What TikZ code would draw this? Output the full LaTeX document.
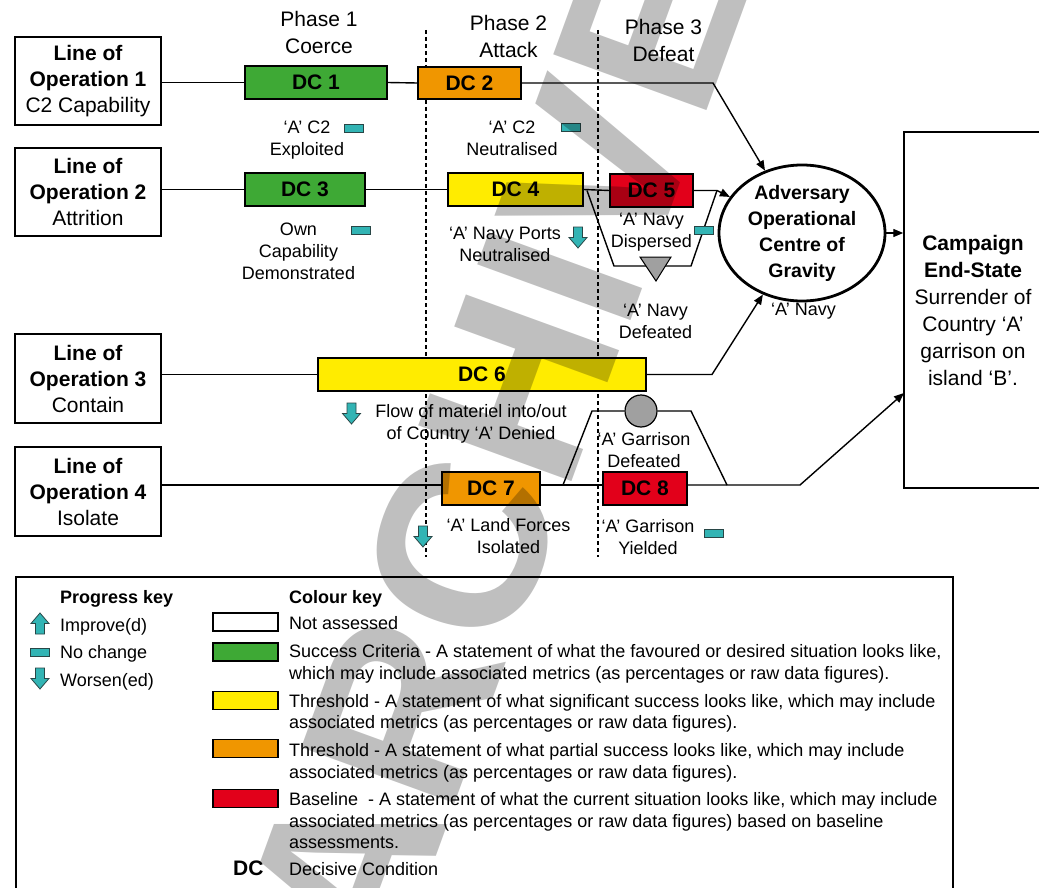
\documentclass[tikz,border=0pt]{standalone}
\usepackage{fontspec}
\setmainfont{Liberation Sans}
\usetikzlibrary{shapes.geometric,arrows.meta}
\definecolor{dcgreen}{RGB}{62,169,53}
\definecolor{dcorange}{RGB}{240,150,0}
\definecolor{dcyellow}{RGB}{255,236,0}
\definecolor{dcred}{RGB}{226,0,26}
\definecolor{icoteal}{RGB}{50,180,180}
\definecolor{icoline}{RGB}{40,70,70}
\definecolor{markgray}{RGB}{160,160,160}
\tikzset{
  loo/.style={draw, line width=1.5pt, minimum width=146pt, minimum height=88pt, inner sep=0pt, align=center, font=\fontsize{21}{26}\selectfont},
  dcbox/.style={draw, line width=1.4pt, inner sep=0pt, font=\fontsize{21}{26}\selectfont\bfseries},
  ann/.style={align=center, inner sep=0pt, font=\fontsize{18}{22}\selectfont},
  phasel/.style={align=center, inner sep=0pt, font=\fontsize{21}{27}\selectfont},
  leg/.style={anchor=base west, inner sep=0pt, font=\fontsize{18}{22}\selectfont},
  legb/.style={leg, font=\fontsize{18}{22}\selectfont\bfseries},
  swatch/.style={draw, line width=1.3pt, minimum width=65pt, minimum height=18pt, inner sep=0pt},
  conn/.style={line width=1.4pt},
  arr/.style={conn, -{Triangle[length=10pt,width=8pt]}},
  phaseline/.style={line width=1.3pt, dash pattern=on 4pt off 3pt},
  nochg/.pic={\filldraw[fill=icoteal, draw=icoline, line width=0.8pt] (-9.5,-4) rectangle (9.5,4);},
  dnarr/.pic={\filldraw[fill=icoteal, draw=icoline, line width=0.8pt] (-4.5,-10.5) -- (4.5,-10.5) -- (4.5,0) -- (9,0) -- (0,10.5) -- (-9,0) -- (-4.5,0) -- cycle;},
  uparr/.pic={\filldraw[fill=icoteal, draw=icoline, line width=0.8pt] (-4.5,10.5) -- (4.5,10.5) -- (4.5,0) -- (9,0) -- (0,-10.5) -- (-9,0) -- (-4.5,0) -- cycle;}
}
\begin{document}
\begin{tikzpicture}[x=1pt,y=-1pt]
\useasboundingbox (0,0) rectangle (1039,888);
\fill[white] (0,0) rectangle (1039,888);

% phase separators
\draw[phaseline] (426,30) -- (426,557);
\draw[phaseline] (598,30) -- (598,557);

% phase titles
\node[phasel] (ph1) at (319,32.5) {Phase 1\\Coerce};
\node[phasel] (ph2) at (508.5,36) {Phase 2\\Attack};
\node[phasel] (ph3) at (663.5,40) {Phase 3\\Defeat};

% lines of operation
\node[loo] (L1) at (88,81) {\textbf{Line of}\\\textbf{Operation 1}\\C2 Capability};
\node[loo] (L2) at (88,192) {\textbf{Line of}\\\textbf{Operation 2}\\Attrition};
\node[loo, minimum height=89pt] (L3) at (88,378.5) {\textbf{Line of}\\\textbf{Operation 3}\\Contain};
\node[loo, minimum height=89pt] (L4) at (88,491.5) {\textbf{Line of}\\\textbf{Operation 4}\\Isolate};

% decisive conditions
\node[dcbox, fill=dcgreen, minimum width=142pt, minimum height=33pt] (DC1) at (316,82.5) {DC 1};
\node[dcbox, fill=dcorange, minimum width=103pt, minimum height=32pt] (DC2) at (469.5,83) {DC 2};
\node[dcbox, fill=dcgreen, minimum width=120pt, minimum height=33pt] (DC3) at (305,189.5) {DC 3};
\node[dcbox, fill=dcyellow, minimum width=135pt, minimum height=33pt] (DC4) at (515.5,189.5) {DC 4};
\node[dcbox, fill=dcred, minimum width=83pt, minimum height=33pt] (DC5) at (651.5,190.5) {DC 5};
\node[dcbox, fill=dcyellow, minimum width=328pt, minimum height=33pt] (DC6) at (482,374.5) {DC 6};
\node[dcbox, fill=dcorange, minimum width=98pt, minimum height=33pt] (DC7) at (491,488.5) {DC 7};
\node[dcbox, fill=dcred, minimum width=84pt, minimum height=33pt] (DC8) at (645,488.5) {DC 8};

% centre of gravity and end state
\node[ellipse, draw, line width=2.8pt, minimum width=166pt, minimum height=124pt, inner sep=0pt, align=center, font=\fontsize{19.5}{26}\selectfont\bfseries] (cog) at (802,233) {Adversary\\Operational\\Centre of\\Gravity};
\node[draw, line width=1.5pt, minimum width=138pt, minimum height=356pt, inner sep=0pt, align=center, font=\fontsize{21}{27}\selectfont] (end) at (973,310) {\textbf{Campaign}\\\textbf{End-State}\\Surrender of\\Country ‘A’\\garrison on\\island ‘B’.};

% helper coordinates
\coordinate (c1) at (713,83);
\coordinate (c2) at (717,190.5);
\coordinate (c3) at (712,374.5);
\coordinate (c4) at (800,485);
\coordinate (e4) at (904,393);
\coordinate (t1) at (587,190.5);
\coordinate (t2) at (614,266);
\coordinate (t3) at (691,266);
\coordinate (u1) at (563,485);
\coordinate (u2) at (592,411);
\coordinate (u3) at (691,411);
\coordinate (u4) at (727,485);

% connectors line 1
\draw[conn] (L1.east |- DC1.west) -- (DC1.west);
\draw[conn] (DC1.east) -- (DC2.west);
\draw[arr] (DC2.east) -- (c1) -- (cog);
% line 2
\draw[conn] (L2.east |- DC3.west) -- (DC3.west);
\draw[conn] (DC3.east) -- (DC4.west);
\draw[conn] (DC4.east) -- (DC5.west);
\draw[arr] (DC5.east) -- (c2) -- (cog);
\draw[conn] (t1) -- (t2) -- (t3) -- (c2);
\filldraw[fill=markgray, line width=1pt] (640,257) -- (671,257) -- (656,281) -- cycle;
% line 3
\draw[conn] (L3.east |- DC6.west) -- (DC6.west);
\draw[arr] (DC6.east) -- (c3) -- (cog);
% line 4
\draw[conn] (L4.east |- c4) -- (DC7.west |- c4);
\draw[conn] (DC7.east |- c4) -- (DC8.west |- c4);
\draw[arr] (DC8.east |- c4) -- (c4) -- (e4);
\node[circle, draw, fill=markgray, minimum size=32pt, inner sep=0pt, line width=1.2pt] (gc) at (641,411) {};
\draw[conn] (u1) -- (u2) -- (gc);
\draw[conn] (gc) -- (u3) -- (u4);
% cog to end
\draw[arr] (cog.east) -- (end.west |- cog.east);

% annotations
\node[ann] (a1) at (307,140) {‘A’ C2\\Exploited};
\node[ann] (a2) at (512,138) {‘A’ C2\\Neutralised};
\node[ann] (a3) at (298.5,251) {Own\\Capability\\Demonstrated};
\node[ann] (a4) at (505,244) {‘A’ Navy Ports\\Neutralised};
\node[ann] (a5) at (651.5,232) {‘A’ Navy\\Dispersed};
\node[ann] (a6) at (655.5,321) {‘A’ Navy\\Defeated};
\node[ann] (a7) at (803.5,311) {‘A’ Navy};
\node[ann] (a8) at (471,424) {Flow of materiel into/out\\of Country ‘A’ Denied};
\node[ann] (a9) at (644,450) {‘A’ Garrison\\Defeated};
\node[ann] (a10) at (508.5,536.5) {‘A’ Land Forces\\Isolated};
\node[ann] (a11) at (648,537.5) {‘A’ Garrison\\Yielded};

% progress icons
\pic (i1) at (354,128.5) {nochg};
\pic (i2) at (570.5,127) {nochg};
\pic (i3) at (360.5,230.5) {nochg};
\pic (i4) at (578,237.5) {dnarr};
\pic (i5) at (703.5,230) {nochg};
\pic (i6) at (351.5,413.5) {dnarr};
\pic (i7) at (423,536.5) {dnarr};
\pic (i8) at (713.5,533) {nochg};

% legend
\draw[line width=1.3pt] (16,577) rectangle (953,895);
\node[legb] (pk) at (60,603) {Progress key};
\pic (k1) at (40,623.5) {uparr};
\node[leg] (pk1) at (60,631) {Improve(d)};
\pic (k2) at (39.5,652) {nochg};
\node[leg] (pk2) at (60,658) {No change};
\pic (k3) at (40,678.5) {dnarr};
\node[leg] (pk3) at (60,686) {Worsen(ed)};

\node[legb] (ck) at (289,603) {Colour key};
\node[swatch, fill=white] (s0) at (245.5,622) {};
\node[swatch, fill=dcgreen] (s1) at (245.5,652) {};
\node[swatch, fill=dcyellow] (s2) at (245.5,700.5) {};
\node[swatch, fill=dcorange] (s3) at (245.5,748.5) {};
\node[swatch, fill=dcred] (s4) at (245.5,798.5) {};
\node[leg] (k0a) at (289,629) {Not assessed};
\node[leg] (k1a) at (289,657) {Success Criteria - A statement of what the favoured or desired situation looks like,};
\node[leg] (k1b) at (289,679) {which may include associated metrics (as percentages or raw data figures).};
\node[leg] (k2a) at (289,707) {Threshold - A statement of what significant success looks like, which may include};
\node[leg] (k2b) at (289,728.5) {associated metrics (as percentages or raw data figures).};
\node[leg] (k3a) at (289,756) {Threshold - A statement of what partial success looks like, which may include};
\node[leg] (k3b) at (289,778) {associated metrics (as percentages or raw data figures).};
\node[leg] (k4a) at (289,805) {Baseline\ \ - A statement of what the current situation looks like, which may include};
\node[leg] (k4b) at (289,827) {associated metrics (as percentages or raw data figures) based on baseline};
\node[leg] (k4c) at (289,848.5) {assessments.};
\node[leg, font=\fontsize{21}{24}\selectfont\bfseries] (kdc) at (233,875) {DC};
\node[leg] (kdct) at (289,875) {Decisive Condition};

% watermark
\node[rotate=70, text=black, text opacity=0.25, inner sep=0pt, font=\fontsize{237}{237}\selectfont\bfseries] (wm) at (497,450) {ARCHIVE};
\end{tikzpicture}
\end{document}
